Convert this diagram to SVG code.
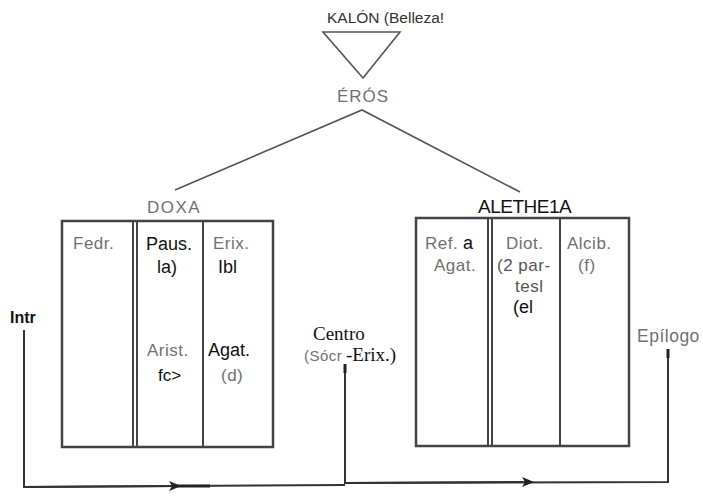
<svg xmlns="http://www.w3.org/2000/svg" width="703" height="496" viewBox="0 0 703 496">
  <style>
    .g { font-family: "Liberation Sans", Arial, sans-serif; fill: #707070; font-size: 17px; letter-spacing: 0.5px; }
    .k { font-family: "Liberation Sans", Arial, sans-serif; fill: #111; font-size: 18px; }
    .t { font-family: "Liberation Serif", "Times New Roman", serif; fill: #111; font-size: 19px; }
    .box { fill: none; stroke: #444; stroke-width: 2.5; }
    .div { stroke: #444; stroke-width: 2; }
    .ln { fill: none; stroke: #555; stroke-width: 1.6; }
    .flow { fill: none; stroke: #333; stroke-width: 2; }
    .tick { stroke: #222; stroke-width: 3; }
  </style>
  <defs>
    <marker id="arrow" viewBox="0 0 12 10" refX="6" refY="5" markerWidth="12" markerHeight="10" markerUnits="userSpaceOnUse" orient="auto">
      <path d="M0,0 L12,5 L0,10 L3,5 Z" fill="#222"/>
    </marker>
  </defs>
  <rect width="703" height="496" fill="#fff"/>

  <!-- top: KALÓN over ÉRÓS -->
  <g id="kalon">
    <text x="327" y="23" font-family="Liberation Sans, Arial, sans-serif" font-size="15.5" fill="#333">KALÓN (Belleza!</text>
    <path class="ln" d="M323,32 L400,32 L363,78 Z"/>
  </g>
  <g id="eros">
    <text class="g" x="337" y="102" style="font-size:17px;letter-spacing:1px">ÉRÓS</text>
  </g>

  <g id="connectors">
    <!-- branches from ÉRÓS -->
    <polyline class="ln" points="175,190 362,110 520,192"/>
    <!-- running line along the bottom -->
    <polyline class="flow" points="24,330 24,487 345,485"/>
    <line class="flow" x1="24" y1="487" x2="175" y2="486" marker-end="url(#arrow)"/>
    <line class="tick" x1="176" y1="486" x2="210" y2="486"/>
    <polyline class="flow" points="345,366 345,483 668,482 668,350"/>
    <line class="flow" x1="345" y1="483" x2="528" y2="482" marker-end="url(#arrow)"/>
    <line class="tick" x1="345" y1="364" x2="345" y2="373"/>
    <line class="tick" x1="668" y1="349" x2="668" y2="358"/>
  </g>

  <!-- DOXA -->
  <g id="doxa">
    <text class="g" x="147" y="213" style="letter-spacing:1.5px">DOXA</text>
    <rect class="box" x="62" y="221" width="211" height="226"/>
    <line class="div" x1="133" y1="221" x2="133" y2="447"/>
    <line class="div" x1="137" y1="221" x2="137" y2="447"/>
    <line class="div" x1="203" y1="221" x2="203" y2="447"/>
    <text class="g" x="73" y="249">Fedr.</text>
    <text class="k" x="146" y="250">Paus.</text>
    <text class="g" x="213" y="249">Erix.</text>
    <text class="k" x="157" y="273">la)</text>
    <text class="k" x="218" y="273">Ibl</text>
    <text class="g" x="147" y="356">Arist.</text>
    <text class="k" x="208" y="356">Agat.</text>
    <text class="k" x="158" y="381" style="font-size:17px">fc&gt;</text>
    <text class="g" x="221" y="381">(d)</text>
  </g>

  <!-- ALETHEIA -->
  <g id="aletheia">
    <text class="k" x="478" y="213" style="font-size:19px;letter-spacing:-0.5px">ALETHE1A</text>
    <rect class="box" x="416" y="218" width="213" height="228"/>
    <line class="div" x1="488" y1="218" x2="488" y2="446"/>
    <line class="div" x1="492" y1="218" x2="492" y2="446"/>
    <line class="div" x1="560" y1="218" x2="560" y2="446"/>
    <text class="g" x="425" y="249">Ref.</text>
    <text class="k" x="463" y="249">a</text>
    <text class="g" x="434" y="271">Agat.</text>
    <text class="g" x="506" y="249">Diot.</text>
    <text class="g" x="497" y="271" style="fill:#555">(2 par-</text>
    <text class="g" x="515" y="292" style="fill:#555">tesl</text>
    <text class="k" x="513" y="313">(el</text>
    <text class="g" x="567" y="249">Alcib.</text>
    <text class="g" x="578" y="271">(f)</text>
  </g>

  <!-- section labels on the bottom line -->
  <g id="intr">
    <text class="k" x="10" y="323" style="font-size:16px;font-weight:bold">Intr</text>
  </g>
  <g id="centro">
    <text class="t" x="313" y="340">Centro</text>
    <text class="g" x="304" y="361" style="font-size:15px">(Sócr</text>
    <text class="t" x="346" y="361">-Erix.)</text>
  </g>
  <g id="epilogo">
    <text class="g" x="637" y="342" style="font-size:17.5px">Epílogo</text>
  </g>
</svg>
